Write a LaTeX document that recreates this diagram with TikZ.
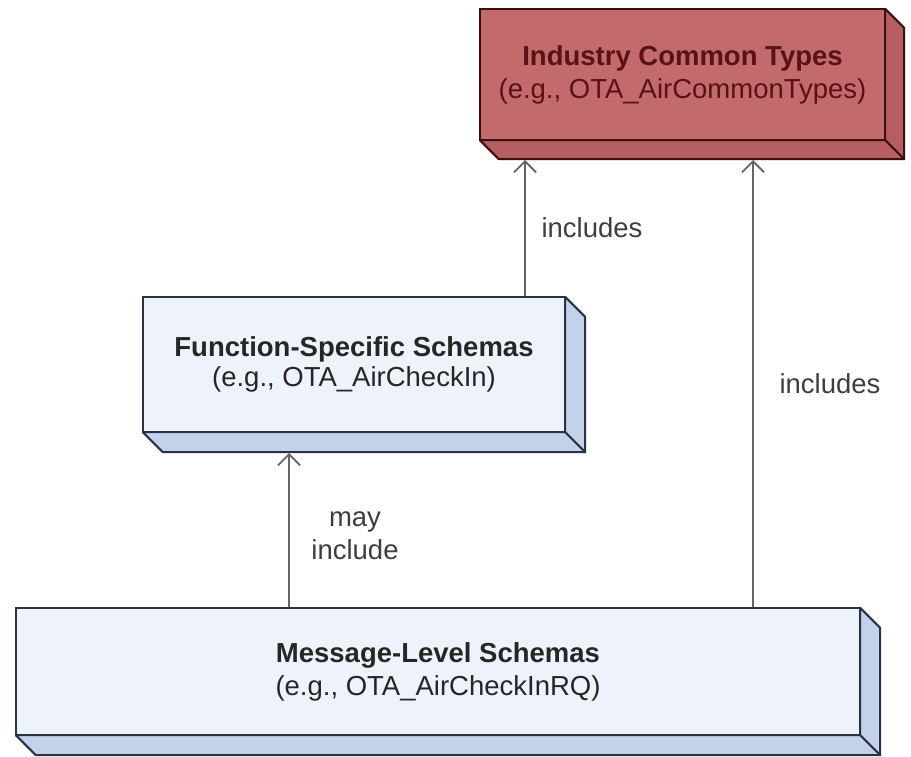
\documentclass[tikz,border=0pt]{standalone}
\usepackage{fontspec}
\setmainfont{Liberation Sans}
\usetikzlibrary{calc,arrows.meta}
\definecolor{redfront}{HTML}{C26A6C}
\definecolor{redside}{HTML}{B65E61}
\definecolor{redline}{HTML}{3A1011}
\definecolor{redtext}{HTML}{5A1214}
\definecolor{bluefront}{HTML}{EEF2FA}
\definecolor{blueside}{HTML}{C3D2EA}
\definecolor{blueline}{HTML}{2A3344}
\definecolor{arrgray}{HTML}{666666}
\definecolor{labgray}{HTML}{3E3E3E}
\tikzset{
  boxtext/.style={font=\fontsize{27.5}{33}\selectfont, align=center, inner sep=0pt},
  redbox/.style={boxtext, draw=redline, fill=redfront, line width=2pt, text=redtext},
  bluebox/.style={boxtext, draw=blueline, fill=bluefront, line width=2pt, text=black!85},
  arr/.style={draw=arrgray, line width=2.3pt, -{Straight Barb[length=11pt,width=22pt,line width=1.8pt]}},
  lab/.style={font=\fontsize{27.5}{33}\selectfont, text=labgray, align=center, inner sep=0pt},
}
\newcommand{\extrude}[4]{% node, depth, fill, line
  \draw[fill=#3, draw=#4, line width=2pt, line join=round]
    (#1.north east) -- ++(#2,#2) -- ($(#1.south east)+(#2,#2)$) -- (#1.south east) -- cycle;
  \draw[fill=#3, draw=#4, line width=2pt, line join=round]
    (#1.south west) -- ++(#2,#2) -- ($(#1.south east)+(#2,#2)$) -- (#1.south east) -- cycle;
}
\begin{document}
\begin{tikzpicture}[x=1pt,y=-1pt]
\useasboundingbox (0,0) rectangle (911,757);

% Industry Common Types
\path (682.5,74.5) node[minimum width=405pt, minimum height=131pt] (ictshape) {};
\extrude{ictshape}{19}{redside}{redline}
\node[redbox, minimum width=405pt, minimum height=131pt] (ict) at (682.5,74.5)
  {\textbf{Industry Common Types}\\(e.g., OTA\_AirCommonTypes)};

% Function-Specific Schemas
\path (354,364.5) node[minimum width=422pt, minimum height=135pt] (fsshape) {};
\extrude{fsshape}{20}{blueside}{blueline}
\node[bluebox, minimum width=422pt, minimum height=135pt] (fs) at (354,364.5)
  {\textbf{Function-Specific Schemas}\\[-3pt](e.g., OTA\_AirCheckIn)};

% Message-Level Schemas
\path (438,671.5) node[minimum width=844pt, minimum height=127pt] (mlshape) {};
\extrude{mlshape}{20}{blueside}{blueline}
\node[bluebox, minimum width=844pt, minimum height=127pt] (ml) at (438,671.5)
  {\textbf{Message-Level Schemas}\\(e.g., OTA\_AirCheckInRQ)};

% back-bottom reference coordinates
\coordinate (ictbase) at ($(ict.south)+(0,19)$);
\coordinate (fsbase) at ($(fs.south)+(0,20)$);

% connectors
\draw[arr] (fs.north -| 525,0) -- (ictbase -| 525,0);
\draw[arr] (ml.north -| 753,0) -- (ictbase -| 753,0);
\draw[arr] (ml.north -| 289,0) -- (fsbase -| 289,0);

% labels
\node[lab] (l1) at (592,228) {includes};
\node[lab] (l2) at (830,384) {includes};
\node[lab] (l3) at (355,536) {may\\include};
\end{tikzpicture}
\end{document}
